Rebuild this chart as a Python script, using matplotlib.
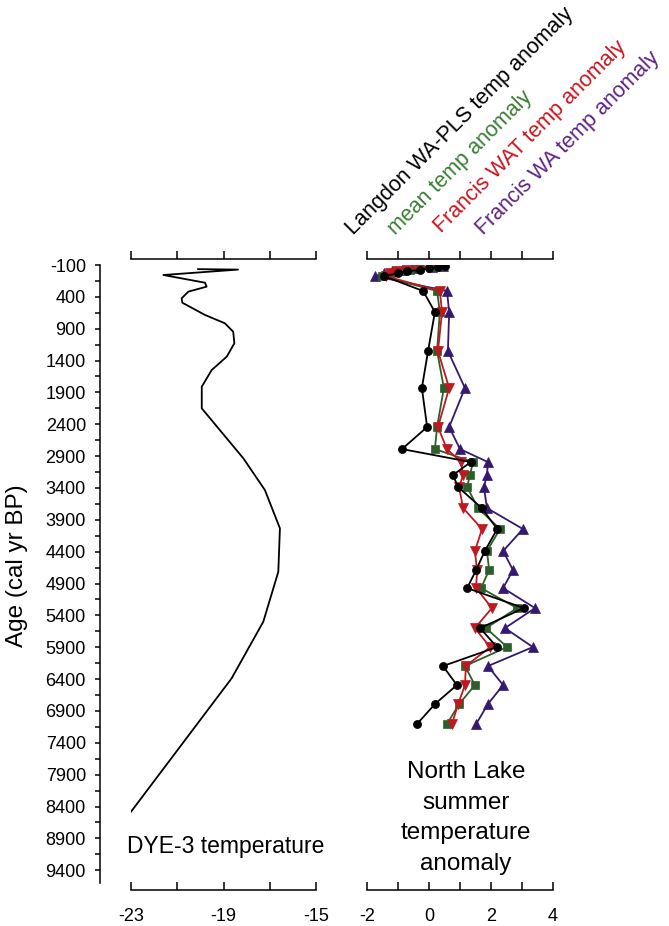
import matplotlib
matplotlib.use('Agg')
import matplotlib.pyplot as plt

plt.rcParams['font.family'] = ['Liberation Sans', 'DejaVu Sans']

# DYE-3 temperature record
dye_age = [-35, -28, 57, 178, 240, 318, 423, 492, 684, 815, 947, 1129, 1339,
           1548, 1810, 2150, 2935, 3432, 4033, 4715, 5500, 6388, 8482]
dye_temp = [-20.1, -18.37, -21.6, -19.80, -19.73, -20.52, -20.81, -20.78, -19.80,
            -18.94, -18.58, -18.53, -18.86, -19.51, -19.94, -19.94, -18.14, -17.21,
            -16.56, -16.63, -17.28, -18.65, -23.0]

# North Lake summer temperature anomalies
nl_age = [-85, -70, -50, -25, 0, 30, 75,
          308, 638, 1250, 1831, 2443, 2789, 2993, 3197, 3385, 3715, 4044, 4390,
          4688, 4971, 5285, 5599, 5897, 6195, 6493, 6792, 7106]
langdon = [0.52, 0.30, 0.00, -0.30, -0.70, -1.00, -1.45,
           -0.19, 0.19, -0.03, -0.23, -0.06, -0.87, 1.35, 0.77, 0.94, 1.70, 2.20, 1.80,
           1.52, 1.23, 3.06, 1.65, 2.19, 0.45, 0.90, 0.19, -0.39]
mean_anom = [0.42, 0.13, -0.30, -0.62, -0.98, -1.23, -1.53,
             0.26, 0.35, 0.26, 0.48, 0.26, 0.19, 1.42, 1.32, 1.23, 1.58, 2.29, 1.87,
             1.94, 1.68, 2.84, 1.84, 2.52, 1.16, 1.48, 0.97, 0.58]
francis_wat = [0.30, 0.00, -0.35, -0.70, -1.03, -1.25, -1.40,
               0.35, 0.42, 0.29, 0.65, 0.29, 0.58, 1.03, 1.10, 0.97, 1.10, 1.71, 1.48,
               1.55, 1.52, 2.03, 1.48, 1.97, 1.19, 1.16, 0.94, 0.74]
francis_wa = [0.45, 0.10, -0.55, -0.87, -1.20, -1.45, -1.74,
              0.58, 0.65, 0.61, 1.16, 0.65, 1.00, 1.90, 1.87, 1.77, 1.87, 3.03, 2.39,
              2.71, 2.39, 3.42, 2.45, 3.35, 1.90, 2.39, 1.90, 1.52]

age_ticks = list(range(-100, 9401, 250))
age_labels = [str(t) if (t + 100) % 500 == 0 else '' for t in age_ticks]
dye_ticks = [-23, -21, -19, -17, -15]
dye_labels = ['-23', '', '-19', '', '-15']
nl_ticks = [-2, -1, 0, 1, 2, 3, 4]
nl_labels = ['-2', '', '0', '', '2', '', '4']

series = [
    ("Francis WA temp anomaly", francis_wa, '#35196f', '^', 7.2, '#5e2485'),
    ("mean temp anomaly", mean_anom, '#2c5f2a', 's', 5.7, '#3a7e34'),
    ("Francis WAT temp anomaly", francis_wat, '#c0181f', 'v', 7.2, '#c8161d'),
    ("Langdon WA-PLS temp anomaly", langdon, '#000000', 'o', 5.8, '#000000'),
]

W, H = 669, 926
fig = plt.figure(figsize=(W / 100, H / 100), dpi=100)


def rect(x0, x1, ytop, ybot):
    return [x0 / W, 1 - ybot / H, (x1 - x0) / W, (ybot - ytop) / H]


ytop_px, ybot_px = 265, 883
axL = fig.add_axes(rect(131, 316, ytop_px, ybot_px))
axR = fig.add_axes(rect(367, 553, ytop_px, ybot_px))

lw_sp = 1.1
ylo, yhi = -100, 9600
top_loc = 1 + 6 / (ybot_px - ytop_px)

# ---- Left panel (DYE-3) ----
axL.plot(dye_temp, dye_age, color='black', lw=1.3)
axL.set_xlim(-23, -15)
axL.set_ylim(yhi, ylo)
axL.spines['right'].set_visible(False)
axL.spines['top'].set_visible(False)
axL.spines['left'].set_position(('outward', 22.3))
axL.spines['bottom'].set_position(('outward', 5))
for s in ('left', 'bottom'):
    axL.spines[s].set_linewidth(lw_sp)
axL.set_yticks(age_ticks)
axL.set_yticklabels(age_labels)
axL.tick_params(axis='y', direction='out', length=3.6, width=lw_sp, pad=6.5, labelsize=13)
axL.set_xticks(dye_ticks)
axL.set_xticklabels(dye_labels)
axL.tick_params(axis='x', direction='in', length=6, width=lw_sp, pad=13, labelsize=13)
secL = axL.secondary_xaxis(top_loc)
secL.set_xticks(dye_ticks)
secL.set_xticklabels([])
secL.tick_params(direction='out', length=6, width=lw_sp)
secL.spines['top'].set_linewidth(lw_sp)
axL.patch.set_alpha(0)

# ---- Right panel (North Lake) ----
for name, vals, col, mk, ms, tcol in series:
    axR.plot(vals, nl_age, color=col, lw=1.3, marker=mk, markersize=ms,
             markerfacecolor=col, markeredgecolor=col, markeredgewidth=0.5)
axR.set_xlim(-2, 4)
axR.set_ylim(yhi, ylo)
for s in ('left', 'right', 'top'):
    axR.spines[s].set_visible(False)
axR.spines['bottom'].set_position(('outward', 5))
axR.spines['bottom'].set_linewidth(lw_sp)
axR.set_yticks([])
axR.set_xticks(nl_ticks)
axR.set_xticklabels(nl_labels)
axR.tick_params(axis='x', direction='in', length=6, width=lw_sp, pad=13, labelsize=13)
secR = axR.secondary_xaxis(top_loc)
secR.set_xticks(nl_ticks)
secR.set_xticklabels([])
secR.tick_params(direction='out', length=6, width=lw_sp)
secR.spines['top'].set_linewidth(lw_sp)
axR.patch.set_alpha(0)

# ---- Texts ----
fig.text(17 / W, 1 - 566 / H, 'Age (cal yr BP)', rotation=90, ha='center', va='center',
         fontsize=17.5)
fig.text(226 / W, 1 - 846 / H, 'DYE-3 temperature', ha='center', va='center', fontsize=16.5)
fig.text(466 / W, 1 - 818 / H, 'North Lake\nsummer\ntemperature\nanomaly',
         ha='center', va='center', fontsize=17.5, linespacing=1.5)

label_pos = {
    "Langdon WA-PLS temp anomaly": (353, 235),
    "mean temp anomaly": (395, 235),
    "Francis WAT temp anomaly": (441, 233),
    "Francis WA temp anomaly": (483, 235),
}
for name, vals, col, mk, ms, tcol in series:
    px, py = label_pos[name]
    fig.text(px / W, 1 - py / H, name, rotation=45, rotation_mode='anchor',
             ha='left', va='baseline', fontsize=15.5, color=tcol)

fig.savefig('out.png', dpi=100)
